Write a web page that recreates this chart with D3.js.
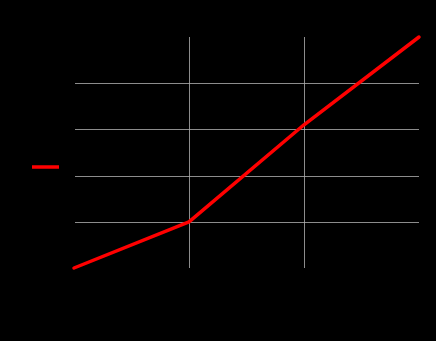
<!DOCTYPE html>
<html>
<head>
<meta charset="utf-8">
<script src="https://cdn.jsdelivr.net/npm/d3@7"></script>
<style>
  html, body { margin: 0; padding: 0; background: #000; }
  svg { display: block; }
</style>
</head>
<body>
<script>
const xValues = [0, 1, 2, 3];
const yValues = [0, 1, 3.1, 5];
const xTicks = [0, 1, 2, 3];
const yTicks = [0, 1, 2, 3, 4, 5];
const seriesName = "series";

const W = 436, H = 341;
const margin = { left: 74, right: 17, top: 37, bottom: 73 };

const svg = d3.select("body").append("svg")
  .attr("width", W).attr("height", H)
  .style("background", "#000");

const x = d3.scaleLinear().domain([0, 3]).range([margin.left, W - margin.right]);
const y = d3.scaleLinear().domain([0, 5]).range([H - margin.bottom, margin.top]);

// grid (interior only; edges coincide with black spines)
const g = svg.append("g");
g.selectAll(".hg").data(yTicks.filter(t => t > 0 && t < 5)).join("line")
  .attr("x1", x(0)).attr("x2", x(3))
  .attr("y1", d => Math.round(y(d)) + 0.5).attr("y2", d => Math.round(y(d)) + 0.5)
  .attr("stroke", "#b0b0b0").attr("stroke-width", 0.8);
g.selectAll(".vg").data(xTicks.filter(t => t > 0 && t < 3)).join("line")
  .attr("y1", y(0)).attr("y2", y(5))
  .attr("x1", d => Math.floor(x(d)) + 0.5).attr("x2", d => Math.floor(x(d)) + 0.5)
  .attr("stroke", "#b0b0b0").attr("stroke-width", 0.8);

// axes (black on black, like the reference)
const xAxis = svg.append("g").attr("transform", `translate(0,${y(0)})`)
  .call(d3.axisBottom(x).tickValues(xTicks).tickFormat(d3.format("d")));
const yAxis = svg.append("g").attr("transform", `translate(${x(0)},0)`)
  .call(d3.axisLeft(y).tickValues(yTicks).tickFormat(d3.format("d")));
[xAxis, yAxis].forEach(a => {
  a.selectAll("path,line").attr("stroke", "#000");
  a.selectAll("text").attr("fill", "#000").style("font-family", "DejaVu Sans").style("font-size", "10px");
});

// line
const line = d3.line().x((d, i) => x(xValues[i])).y(d => y(d));
svg.append("path").datum(yValues)
  .attr("d", line)
  .attr("fill", "none")
  .attr("stroke", "#ff0000")
  .attr("stroke-width", 3.5)
  .attr("stroke-linejoin", "round")
  .attr("stroke-linecap", "round");

// legend
const lg = svg.append("g");
lg.append("line").attr("x1", 32).attr("x2", 59).attr("y1", 167).attr("y2", 167)
  .attr("stroke", "#ff0000").attr("stroke-width", 3.5);
lg.append("text").attr("x", 30).attr("y", 182).text(seriesName)
  .attr("fill", "#000").style("font-family", "DejaVu Sans").style("font-size", "10px");
</script>
</body>
</html>
